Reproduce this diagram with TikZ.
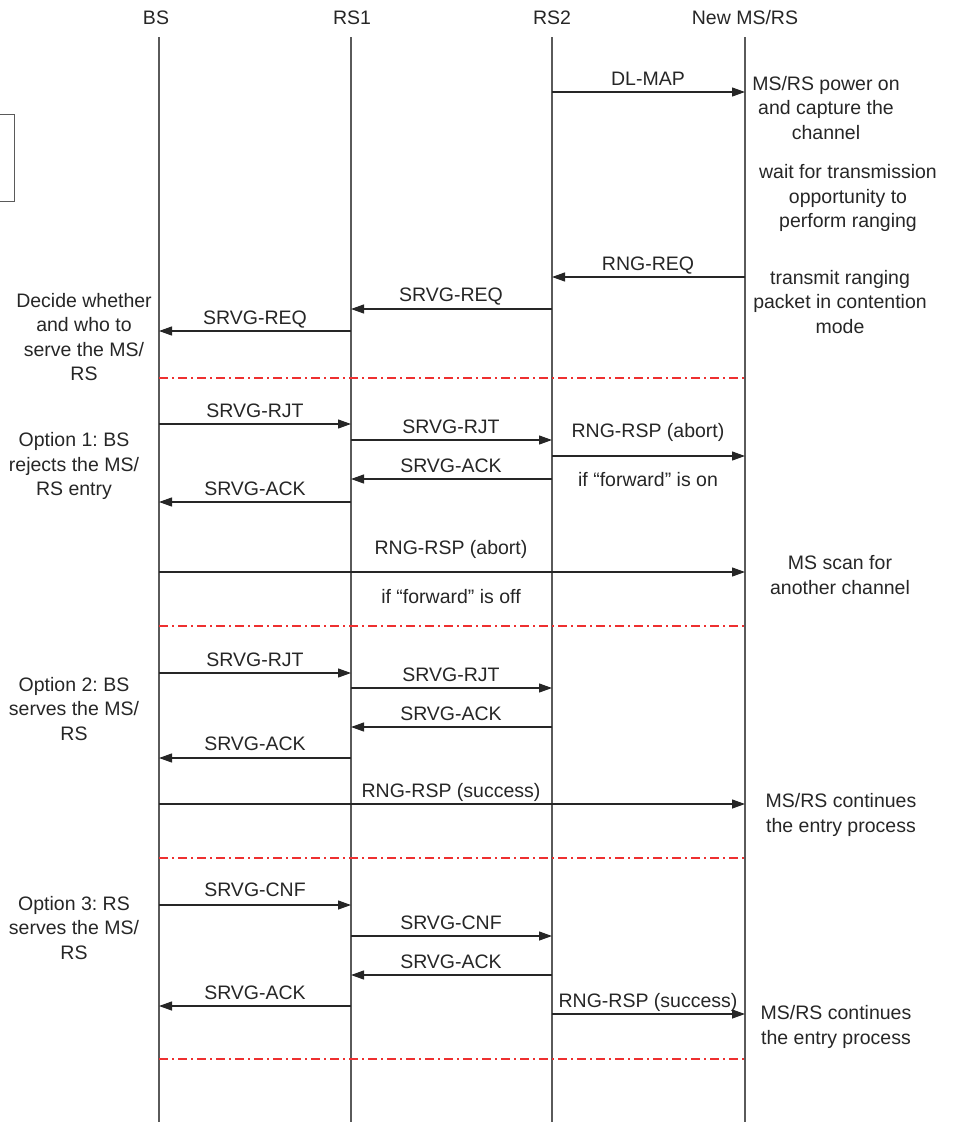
\documentclass[tikz,border=0pt]{standalone}
\usepackage{fontspec}
\setmainfont{Liberation Sans}
\usetikzlibrary{arrows.meta}
\frenchspacing
\definecolor{sepred}{RGB}{238,48,48}
\definecolor{lifegray}{RGB}{90,90,90}
\tikzset{
  lifeline/.style={draw=lifegray, line width=1.2pt},
  msgline/.style={draw=black!85, line width=1.2pt, -{Triangle[length=13pt,width=9pt]}},
  sepline/.style={draw=sepred, line width=1.1pt, dash pattern=on 9pt off 4pt on 2pt off 4pt},
  lbl/.style={font=\fontsize{19.5}{24.5}\selectfont, inner sep=0pt, align=center, text=black!85},
  msglbl/.style={lbl, anchor=base},
}
% #1 name, #2 from x, #3 to x, #4 y, #5 label x, #6 label centre y, #7 text
\newcommand\seqmsg[7]{%
  \coordinate (#1s) at (#2,#4);
  \coordinate (#1e) at (#3,#4);
  \draw[msgline] (#1s) -- (#1e);
  \node[msglbl] (#1l) at (#5,#6+7) {#7};
}
\newcommand\seqsep[2]{%
  \coordinate (#1s) at (159,#2);
  \coordinate (#1e) at (745,#2);
  \draw[sepline] (#1s) -- (#1e);
}
\begin{document}
\begin{tikzpicture}[x=1pt,y=-1pt]
\useasboundingbox (0,0) rectangle (953,1122);
% headers
\node[msglbl] (hBS) at (156,24) {BS};
\node[msglbl] (hRA) at (352,24) {RS1};
\node[msglbl] (hRB) at (552,24) {RS2};
\node[msglbl] (hMS) at (745,24) {New MS/RS};
% lifelines
\foreach \n/\x in {bs/159, ra/351, rb/552, ms/745}{
  \coordinate (\n top) at (\x,37);
  \coordinate (\n bot) at (\x,1122);
  \draw[lifeline] (\n top) -- (\n bot);
}
% partial box at left
\node[draw=lifegray, line width=1.2pt, minimum width=40pt, minimum height=87pt, anchor=north east, inner sep=0pt] (box) at (15,114) {};
% messages
\seqmsg{m1}{552}{745}{92}{648}{78}{DL-MAP}
\seqmsg{m2}{745}{552}{277}{648}{263}{RNG-REQ}
\seqmsg{m3}{552}{351}{309}{451}{294}{SRVG-REQ}
\seqmsg{m4}{351}{159}{331}{255}{317}{SRVG-REQ}
\seqsep{s1}{378}
\seqmsg{m5}{159}{351}{424}{255}{410}{SRVG-RJT}
\seqmsg{m6}{351}{552}{440}{451}{426}{SRVG-RJT}
\seqmsg{m7}{552}{745}{456}{648}{430}{RNG-RSP (abort)}
\node[msglbl] (n7) at (648,486) {if “forward” is on};
\seqmsg{m8}{552}{351}{479}{451}{465}{SRVG-ACK}
\seqmsg{m9}{351}{159}{502}{255}{488}{SRVG-ACK}
\seqmsg{m10}{159}{745}{572}{451}{547}{RNG-RSP (abort)}
\node[msglbl] (n10) at (451,603) {if “forward” is off};
\seqsep{s2}{626}
\seqmsg{m11}{159}{351}{673}{255}{659}{SRVG-RJT}
\seqmsg{m12}{351}{552}{688}{451}{674}{SRVG-RJT}
\seqmsg{m13}{552}{351}{727}{451}{713}{SRVG-ACK}
\seqmsg{m14}{351}{159}{758}{255}{743}{SRVG-ACK}
\seqmsg{m15}{159}{745}{804}{451}{790}{RNG-RSP (success)}
\seqsep{s3}{858}
\seqmsg{m16}{159}{351}{905}{255}{889}{SRVG-CNF}
\seqmsg{m17}{351}{552}{936}{451}{922}{SRVG-CNF}
\seqmsg{m18}{552}{351}{975}{451}{961}{SRVG-ACK}
\seqmsg{m19}{351}{159}{1006}{255}{992}{SRVG-ACK}
\seqmsg{m20}{552}{745}{1014}{648}{1000}{RNG-RSP (success)}
\seqsep{s4}{1059}
% right-side notes
\node[lbl] (r1) at (826,108) {MS/RS power on\\and capture the\\channel};
\node[lbl] (r2) at (848,198) {wait for transmission\\opportunity to\\perform ranging};
\node[lbl] (r3) at (840,302) {transmit ranging\\packet in contention\\mode};
\node[lbl] (r4) at (840,575) {MS scan for\\another channel};
\node[lbl] (r5) at (841,815) {MS/RS continues\\the entry process};
\node[lbl] (r6) at (836,1027) {MS/RS continues\\the entry process};
% left-side notes
\node[lbl] (l1) at (84,337) {Decide whether\\and who to\\serve the MS/\\RS};
\node[lbl] (l2) at (74,466) {Option 1: BS\\rejects the MS/\\RS entry};
\node[lbl] (l3) at (74,709) {Option 2: BS\\serves the MS/\\RS};
\node[lbl] (l4) at (74,928) {Option 3: RS\\serves the MS/\\RS};
\end{tikzpicture}
\end{document}
